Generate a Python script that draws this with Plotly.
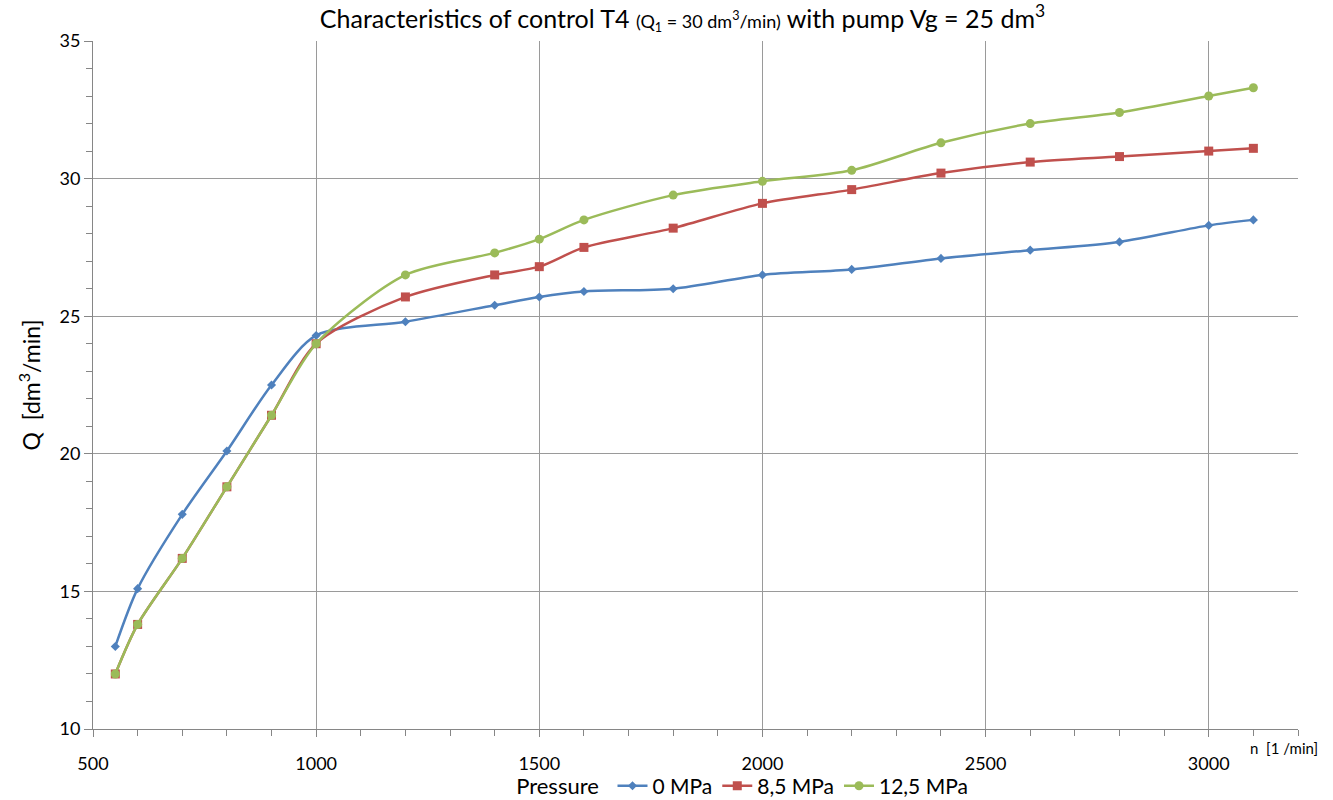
import plotly.graph_objects as go

rpm = [550, 600, 700, 800, 900, 1000, 1200, 1400, 1500, 1600, 1800, 2000, 2200, 2400, 2600, 2800, 3000, 3100]
q_0mpa = [13.0, 15.1, 17.8, 20.1, 22.5, 24.3, 24.8, 25.4, 25.7, 25.9, 26.0, 26.5, 26.7, 27.1, 27.4, 27.7, 28.3, 28.5]
q_85mpa = [12.0, 13.8, 16.2, 18.8, 21.4, 24.0, 25.7, 26.5, 26.8, 27.5, 28.2, 29.1, 29.6, 30.2, 30.6, 30.8, 31.0, 31.1]
q_125mpa = [12.0, 13.8, 16.2, 18.8, 21.4, 24.0, 26.5, 27.3, 27.8, 28.5, 29.4, 29.9, 30.3, 31.3, 32.0, 32.4, 33.0, 33.3]
series_names = ["0 MPa", "8,5 MPa", "12,5 MPa"]

FONT = "Lato"
colors = ["#4F81BD", "#C0504D", "#9BBB59"]
symbols = ["diamond", "square", "circle"]
msizes = [7, 9, 9]

fig = go.Figure()
for name, ys, c, s, ms in zip(series_names, [q_0mpa, q_85mpa, q_125mpa], colors, symbols, msizes):
    fig.add_trace(go.Scatter(
        x=rpm, y=ys, name=name, mode="lines+markers",
        line=dict(color=c, width=2.5, shape="spline", smoothing=0.8),
        marker=dict(symbol=s, size=ms, color=c),
    ))

axis_col = "#868686"
grid_col = "#9a9a9a"
X_RANGE = [500, 3200]
Y_RANGE = [10, 35]
fig.update_layout(
    width=1333, height=800, autosize=False,
    margin=dict(l=93, r=35, t=41, b=71, autoexpand=False),
    paper_bgcolor="white", plot_bgcolor="white",
    font=dict(family=FONT, size=18, color="#000000"),
    title=dict(
        text="Characteristics of control T4 <span style='font-size:18px'>(Q<sub>1</sub> = 30 dm<sup>3</sup>/min)</span> with pump Vg = 25 dm<sup>3</sup>",
        x=0.512, xanchor="center", y=0.976, yanchor="middle",
        font=dict(family=FONT, size=25, color="#000000"),
    ),
    xaxis=dict(
        range=X_RANGE, dtick=500, tick0=500,
        showgrid=True, gridcolor=grid_col, gridwidth=1,
        showline=True, linecolor=axis_col, linewidth=1,
        ticks="outside", ticklen=7, tickcolor=axis_col,
        minor=dict(dtick=100, ticks="outside", ticklen=6, tickcolor=axis_col, showgrid=False),
        zeroline=False, tickfont=dict(size=18), ticklabelstandoff=11,
    ),
    xaxis2=dict(
        range=X_RANGE, dtick=500, tick0=500, overlaying="x", side="bottom",
        showgrid=False, showline=False, showticklabels=False, zeroline=False,
        ticks="inside", ticklen=5, tickcolor=axis_col,
        minor=dict(dtick=100, ticks="inside", ticklen=5, tickcolor=axis_col, showgrid=False),
    ),
    yaxis=dict(
        range=Y_RANGE, dtick=5, tick0=10,
        showgrid=True, gridcolor=grid_col, gridwidth=1,
        showline=True, linecolor=axis_col, linewidth=1,
        ticks="outside", ticklen=8, tickcolor=axis_col,
        minor=dict(dtick=1, ticks="outside", ticklen=6, tickcolor=axis_col, showgrid=False),
        zeroline=False, tickfont=dict(size=18),
        title=dict(text="Q  [dm<sup>3</sup>/min]", font=dict(size=23), standoff=12),
    ),
    yaxis2=dict(
        range=Y_RANGE, dtick=5, tick0=10, overlaying="y", side="left",
        showgrid=False, showline=False, showticklabels=False, zeroline=False,
        ticks="",
        minor=dict(dtick=1, ticks="inside", ticklen=6, tickcolor=axis_col, showgrid=False),
    ),
    legend=dict(
        orientation="h", x=0.54, xanchor="center", y=-0.083, yanchor="middle",
        title=dict(text="Pressure ", font=dict(size=22)),
        font=dict(size=21), itemwidth=30, tracegroupgap=0,
        bgcolor="rgba(0,0,0,0)",
    ),
    annotations=[dict(
        text="n  [1 /min]", x=1.0, y=0, xref="paper", yref="paper",
        xanchor="right", yanchor="top", showarrow=False, font=dict(size=15),
        xshift=22, yshift=-8,
    )],
)

fig.write_html("out.html")
